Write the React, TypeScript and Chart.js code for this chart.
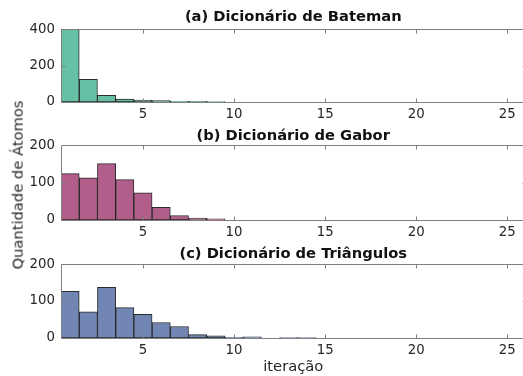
import { useEffect, useRef } from "react";
import { Chart, registerables } from "chart.js";

Chart.register(...registerables);

// ---- data ----
const batemanCounts = [398, 124, 37, 16, 11, 8, 4, 3, 2];
const gaborCounts = [124, 113, 151, 108, 73, 34, 12, 5, 3];
const triangleCounts = [126, 71, 137, 82, 64, 42, 31, 9, 6, 2, 3, 0, 1, 1];
const xTickValues = [5, 10, 15, 20, 25];
const yTicksBateman = [0, 200, 400];
const yTicksOther = [0, 100, 200];
const panelTitles = [
  "(a) Dicionário de Bateman",
  "(b) Dicionário de Gabor",
  "(c) Dicionário de Triângulos",
];
const xLabel = "iteração";
const yLabel = "Quantidade de Átomos";

const FONT = "DejaVu Sans";
const TEXT = "#262626";
const FRAME = "#808080";

const framePlugin = {
  id: "frameTicks",
  afterDatasetsDraw(chart: any) {
    const { ctx, chartArea: a, scales } = chart;
    ctx.save();
    ctx.strokeStyle = FRAME;
    ctx.lineWidth = 1;
    const L = Math.round(a.left) + 0.5;
    const R = Math.round(a.right) + 0.5;
    const T = Math.round(a.top) + 0.5;
    const B = Math.round(a.bottom) + 0.5;
    ctx.beginPath();
    ctx.rect(L, T, R - L, B - T);
    const tl = 4;
    for (const t of scales.x.ticks) {
      const px = Math.round(scales.x.getPixelForValue(t.value)) + 0.5;
      ctx.moveTo(px, B);
      ctx.lineTo(px, B - tl);
      ctx.moveTo(px, T);
      ctx.lineTo(px, T + tl);
    }
    for (const t of scales.y.ticks) {
      const py = Math.round(scales.y.getPixelForValue(t.value)) + 0.5;
      ctx.moveTo(L, py);
      ctx.lineTo(L + tl, py);
      ctx.moveTo(R, py);
      ctx.lineTo(R - tl, py);
    }
    ctx.stroke();
    ctx.restore();
  },
};

type Panel = {
  counts: number[];
  color: string;
  title: string;
  yTicks: number[];
  yMax: number;
  top: number;
  height: number;
  padTop: number;
  titleGap: number;
  xAxisHeight: number;
  showXLabel: boolean;
};

function HistPanel({ p }: { p: Panel }) {
  const ref = useRef<HTMLCanvasElement>(null);
  useEffect(() => {
    if (!ref.current) return;
    const chart = new Chart(ref.current, {
      type: "bar",
      data: {
        datasets: [
          {
            data: p.counts.map((v, i) => ({ x: i + 1, y: v })),
            backgroundColor: p.color,
            borderColor: "rgba(20,20,20,0.9)",
            borderWidth: 1,
            borderSkipped: false,
            barPercentage: 1,
            categoryPercentage: 1,
          },
        ],
      },
      options: {
        animation: false,
        responsive: true,
        maintainAspectRatio: false,
        layout: { padding: { left: 0, right: 14.5, top: p.padTop, bottom: 0 } },
        plugins: {
          legend: { display: false },
          tooltip: { enabled: false },
          title: {
            display: true,
            fullSize: false,
            text: p.title,
            color: "#111",
            font: { family: FONT, size: 14.7, weight: "bold" },
            padding: { top: 0, bottom: p.titleGap },
          },
        },
        scales: {
          x: {
            type: "linear",
            min: 0.5,
            max: 26,
            offset: false,
            grid: { display: false, drawTicks: false, tickLength: 0 },
            border: { display: false },
            afterBuildTicks: (s: any) => {
              s.ticks = xTickValues.map((v) => ({ value: v }));
            },
            afterFit: (s: any) => {
              s.height = p.xAxisHeight;
            },
            ticks: {
              color: TEXT,
              font: { family: FONT, size: 13.3 },
              padding: 5,
              maxRotation: 0,
              autoSkip: false,
            },
            title: {
              display: p.showXLabel,
              text: xLabel,
              color: TEXT,
              font: { family: FONT, size: 14.7 },
              padding: { top: 0, bottom: 0.5 },
            },
          },
          y: {
            min: 0,
            max: p.yMax,
            grid: { display: false, drawTicks: false, tickLength: 0 },
            border: { display: false },
            afterBuildTicks: (s: any) => {
              s.ticks = p.yTicks.map((v) => ({ value: v }));
            },
            afterFit: (s: any) => {
              s.width = 61;
            },
            ticks: {
              color: TEXT,
              font: { family: FONT, size: 13.3 },
              padding: 6,
            },
          },
        },
      },
      plugins: [framePlugin],
    } as any);
    return () => chart.destroy();
  }, [p]);
  return (
    <div
      style={{
        position: "absolute",
        left: 0,
        top: p.top,
        width: 540,
        height: p.height,
      }}
    >
      <canvas ref={ref} />
    </div>
  );
}

const panels: Panel[] = [
  {
    counts: batemanCounts,
    color: "rgb(102,192,165)",
    title: panelTitles[0],
    yTicks: yTicksBateman,
    yMax: 400,
    top: 0,
    height: 124,
    padTop: 8.2,
    titleGap: 3.2,
    xAxisHeight: 22,
    showXLabel: false,
  },
  {
    counts: gaborCounts,
    color: "rgb(178,94,138)",
    title: panelTitles[1],
    yTicks: yTicksOther,
    yMax: 200,
    top: 124,
    height: 118,
    padTop: 3.6,
    titleGap: 0,
    xAxisHeight: 22,
    showXLabel: false,
  },
  {
    counts: triangleCounts,
    color: "rgb(114,134,180)",
    title: panelTitles[2],
    yTicks: yTicksOther,
    yMax: 200,
    top: 242,
    height: 134,
    padTop: 3.2,
    titleGap: 1.2,
    xAxisHeight: 38,
    showXLabel: true,
  },
];

export default function App() {
  return (
    <div
      style={{
        position: "fixed",
        left: 0,
        top: 0,
        width: 523,
        height: 376,
        overflow: "hidden",
        background: "#fff",
      }}
    >
      {panels.map((p, i) => (
        <HistPanel key={i} p={p} />
      ))}
      <div
        style={{
          position: "absolute",
          left: 17.5,
          top: 185,
          transform: "translate(-50%, -50%) rotate(-90deg)",
          whiteSpace: "nowrap",
          fontFamily: FONT,
          fontSize: 14.7,
          lineHeight: 1,
          color: TEXT,
        }}
      >
        {yLabel}
      </div>
    </div>
  );
}
